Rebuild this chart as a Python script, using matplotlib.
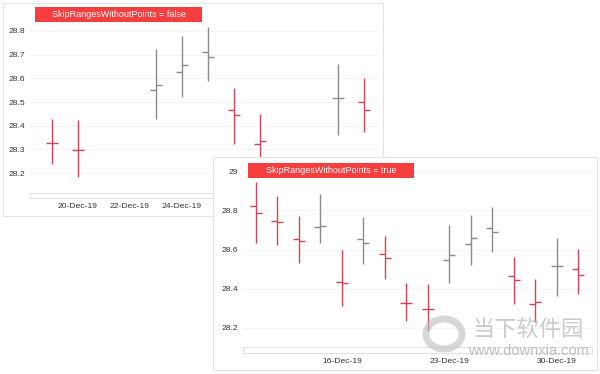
import matplotlib
matplotlib.use("Agg")
import matplotlib.pyplot as plt
import matplotlib.dates as mdates
from matplotlib.patches import Rectangle, Ellipse
from matplotlib.lines import TICKLEFT, TICKRIGHT
import datetime as dt

# ---------------- data ----------------
dates = ["2019-12-10", "2019-12-11", "2019-12-12", "2019-12-13", "2019-12-16",
         "2019-12-17", "2019-12-18", "2019-12-19", "2019-12-20", "2019-12-23",
         "2019-12-24", "2019-12-25", "2019-12-26", "2019-12-27", "2019-12-30",
         "2019-12-31"]
open_ = [28.822, 28.745, 28.652, 28.713, 28.433, 28.652, 28.579, 28.327,
         28.297, 28.549, 28.627, 28.710, 28.466, 28.322, 28.515, 28.500]
high = [28.945, 28.873, 28.771, 28.881, 28.596, 28.766, 28.669, 28.428,
        28.424, 28.726, 28.778, 28.817, 28.560, 28.451, 28.659, 28.601]
low = [28.632, 28.623, 28.530, 28.632, 28.310, 28.525, 28.450, 28.237,
       28.184, 28.429, 28.522, 28.588, 28.324, 28.233, 28.361, 28.373]
close = [28.788, 28.740, 28.644, 28.722, 28.430, 28.632, 28.559, 28.325,
         28.296, 28.571, 28.658, 28.691, 28.445, 28.335, 28.515, 28.468]

panel1_start = "2019-12-19"
panel1_ticks = ["2019-12-20", "2019-12-22", "2019-12-24"]
panel1_yticks = [28.2, 28.3, 28.4, 28.5, 28.6, 28.7, 28.8]
panel2_tick_dates = ["2019-12-16", "2019-12-23", "2019-12-30"]
panel2_yticks = [28.2, 28.4, 28.6, 28.8, 29.0]
title1 = "SkipRangesWithoutPoints = false"
title2 = "SkipRangesWithoutPoints = true"

# ---------------- style ----------------
W, H = 600, 374
RED = "#d2435b"
GRAY = "#8a8a8a"
TITLE_BG = "#f73e3e"
TXT = "#333333"
FONT = "Liberation Sans"
plt.rcParams["font.family"] = [FONT, "DejaVu Sans"]

fig = plt.figure(figsize=(W / 100, H / 100), dpi=100)
fig.patch.set_facecolor("white")


def px_axes(x0, y0, x1, y1, **kw):
    return fig.add_axes([x0 / W, 1 - y1 / H, (x1 - x0) / W, (y1 - y0) / H], **kw)


def frame(x0, y0, x1, y1):
    a = px_axes(x0, y0, x1, y1)
    a.set_xticks([])
    a.set_yticks([])
    a.set_facecolor("white")
    for s in a.spines.values():
        s.set_color("#e4e4e4")
        s.set_linewidth(0.8)
    return a


def title_box(x0, y0, x1, y1, text):
    a = px_axes(x0, y0, x1, y1)
    a.set_axis_off()
    a.add_patch(Rectangle((0, 0), 1, 1, transform=a.transAxes,
                          facecolor=TITLE_BG, edgecolor="none"))
    a.text(0.5, 0.47, text, transform=a.transAxes, ha="center", va="center",
           color="white", fontsize=6.5, family=[FONT, "DejaVu Sans"])


def scrollbar(x0, y0, x1, y1):
    a = px_axes(x0, y0, x1, y1)
    a.set_xticks([])
    a.set_yticks([])
    a.set_facecolor("white")
    for s in a.spines.values():
        s.set_color("#e2e2e2")
        s.set_linewidth(0.7)


dnum = mdates.datestr2num(dates)
colors = []
for i in range(len(close)):
    ref = close[i - 1] if i > 0 else open_[i]
    colors.append(GRAY if close[i] >= ref else RED)


def ohlc(ax, xs, idx, tick_ms):
    for x, i in zip(xs, idx):
        c = colors[i]
        ax.vlines(x, low[i], high[i], color=c, lw=1.0)
        ax.plot([x], [open_[i]], marker=TICKLEFT, ms=tick_ms, mew=1.0, color=c)
        ax.plot([x], [close[i]], marker=TICKRIGHT, ms=tick_ms, mew=1.0, color=c)


def style_axis(ax):
    for s in ax.spines.values():
        s.set_visible(False)
    ax.tick_params(length=0, labelsize=6.1, labelcolor=TXT)
    ax.grid(axis="y", color="#f2f2f2", lw=0.6)
    ax.set_axisbelow(True)


# ---------------- panel 1 (back) ----------------
frame(3, 3, 383, 216)
ax1 = px_axes(30, 24, 378, 191)
style_axis(ax1)
p1 = [i for i, d in enumerate(dates) if d >= panel1_start]
ohlc(ax1, dnum[p1], p1, 4.4)
d20 = mdates.datestr2num("2019-12-20")
ax1.set_xlim(d20 + (30 - 78) / 26.0, d20 + (378 - 78) / 26.0)
ax1.set_ylim(28.2 - 18 / 236.7, 28.8 + 7 / 236.7)
ax1.set_yticks(panel1_yticks)
ax1.set_yticklabels([f"{v:g}" for v in panel1_yticks])
ax1.set_xticks(mdates.datestr2num(panel1_ticks))
ax1.xaxis.set_major_formatter(mdates.DateFormatter("%d-%b-%y"))
ax1.tick_params(axis="x", pad=8.5)
ax1.tick_params(axis="y", pad=3.6)
ax1.set_facecolor("none")
scrollbar(30, 193, 383, 198)
title_box(35, 7, 202, 22, title1)

# ---------------- panel 2 (front) ----------------
frame(213, 157, 597, 370)
ax2 = px_axes(243, 165, 592, 345)
style_axis(ax2)
idx = list(range(len(dates)))
ohlc(ax2, idx, idx, 4.4)
ax2.set_xlim((243 - 256) / 21.47, (592 - 256) / 21.47)
ax2.set_ylim(28.2 - 17 / 196.25, 29 + 6 / 196.25)
ax2.set_yticks(panel2_yticks)
ax2.set_yticklabels([f"{v:g}" for v in panel2_yticks])
ax2.set_xticks([dates.index(d) for d in panel2_tick_dates])
ax2.set_xticklabels([dt.datetime.strptime(d, "%Y-%m-%d").strftime("%d-%b-%y")
                     for d in panel2_tick_dates])
ax2.tick_params(axis="x", pad=9.5)
ax2.tick_params(axis="y", pad=3.6)
ax2.set_facecolor("none")
scrollbar(243, 347, 592, 353)
title_box(248, 163, 414, 178, title2)

# ---------------- watermark ----------------
wm = px_axes(0, 0, W, H)
wm.set_axis_off()
wm.set_xlim(0, W)
wm.set_ylim(H, 0)
wm.add_patch(Ellipse((444, 334), 36, 30, fill=False, edgecolor="#bdbdbd",
                     lw=5, alpha=0.6))
wm.text(528, 330, "当下软件园", ha="center", va="center", fontsize=16,
        color="#b5b5b5", alpha=0.7, family=["Noto Sans CJK SC", "DejaVu Sans"])
wm.text(528, 351, "www.downxia.com", ha="center", va="center", fontsize=10.5,
        color="#b0b0b0", alpha=0.8, family=[FONT, "DejaVu Sans"])

fig.savefig("out.png", dpi=100)
